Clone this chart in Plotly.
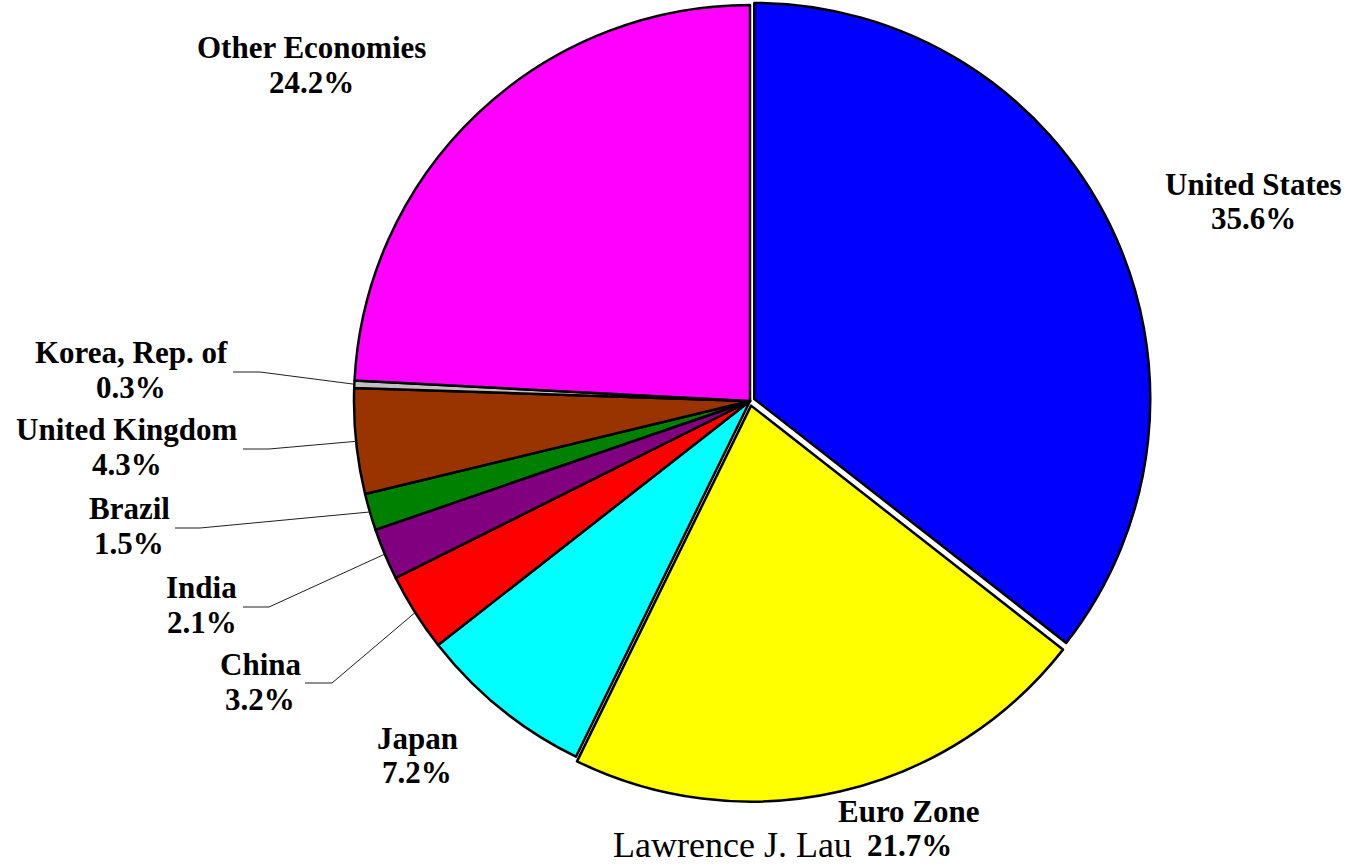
import plotly.graph_objects as go
import numpy as np

# ---------------- data ----------------
labels = ["United States", "Euro Zone", "Japan", "China", "India", "Brazil",
          "United Kingdom", "Korea, Rep. of", "Other Economies"]
shares = [35.6, 21.7, 7.2, 3.2, 2.1, 1.5, 4.3, 0.3, 24.2]
pct_text = [f"{v:.1f}%" for v in shares]

# ---------------- styles ----------------
colors = ["#0000FF", "#FFFF00", "#00FFFF", "#FF0000", "#800080", "#008000",
          "#993300", "#C0C0C0", "#FF00FF"]
pull = [0.012, 0.012, 0, 0, 0, 0, 0, 0, 0]

W, H = 1349, 866
CX, CY, R = 750, 401, 396          # pie centre / radius in pixels
half = R * (1 + max(pull))
dom_y = [1 - (CY + half) / H, 1 - (CY - half) / H]
dom_x = [(CX - half * 1.1) / W, (CX + half * 1.1) / W]

FONT = "Liberation Serif, Times New Roman, serif"
FS = 31

# label placement: centre x, baseline of name line, baseline of percent line
label_pos = {
    "United States": (1253, 195, 229),
    "Euro Zone": (909, 822, 856),
    "Japan": (417, 749, 783),
    "China": (260, 675, 710),
    "India": (202, 598, 633),
    "Brazil": (129, 519, 554),
    "United Kingdom": (127, 440, 475),
    "Korea, Rep. of": (131, 363, 398),
    "Other Economies": (311, 58, 93),
}
# leader lines: label-side start x, elbow x, y
leaders = {
    "Korea, Rep. of": (233, 260, 372),
    "United Kingdom": (243, 269, 449),
    "Brazil": (175, 200, 528),
    "India": (243, 269, 607),
    "China": (305, 332, 683),
}

fig = go.Figure(go.Pie(
    labels=labels, values=shares, sort=False, direction="clockwise",
    rotation=0, pull=pull, textinfo="none", hoverinfo="label+percent",
    marker=dict(colors=colors, line=dict(color="black", width=2.5)),
    domain=dict(x=dom_x, y=dom_y), showlegend=False,
))


def py(px_y):
    return 1 - px_y / H


def px(px_x):
    return px_x / W


annotations = []
for name, pct in zip(labels, pct_text):
    x, b1, b2 = label_pos[name]
    for txt, b in ((name, b1), (pct, b2)):
        annotations.append(dict(
            x=px(x), y=py(b - 0.3375 * FS), xref="paper", yref="paper",
            text=txt, showarrow=False, xanchor="center", yanchor="middle",
            font=dict(family=FONT, size=FS, color="black", weight="bold"),
        ))

SIG = 36
annotations.append(dict(
    x=px(732), y=py(857 - 0.3375 * SIG), xref="paper", yref="paper",
    text="Lawrence J. Lau", showarrow=False, xanchor="center", yanchor="middle",
    font=dict(family=FONT, size=SIG, color="black"),
))

# leader lines end at the slice mid-angle on the pie edge
total = sum(shares)
cum = np.cumsum([0] + shares[:-1])
shapes = []
for i, name in enumerate(labels):
    if name not in leaders:
        continue
    theta = 2 * np.pi * (cum[i] + shares[i] / 2) / total
    ex = CX + R * np.sin(theta)
    ey = CY - R * np.cos(theta)
    sx, elx, y = leaders[name]
    path = (f"M {px(sx)} {py(y)} L {px(elx)} {py(y)} "
            f"L {px(ex)} {py(ey)}")
    shapes.append(dict(type="path", path=path, xref="paper", yref="paper",
                       line=dict(color="#202020", width=1)))

fig.update_layout(
    width=W, height=H, margin=dict(l=0, r=0, t=0, b=0),
    paper_bgcolor="white", plot_bgcolor="white",
    annotations=annotations, shapes=shapes,
)

fig.write_html(
    "out.html",
    config={"displayModeBar": False},
    post_script="document.body.style.margin='0';document.body.style.padding='0';",
)
